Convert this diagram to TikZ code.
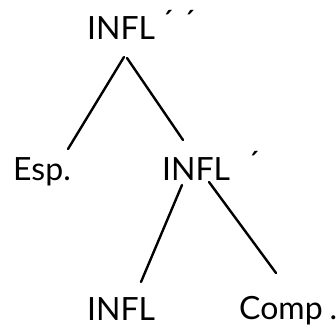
\documentclass[tikz,border=0pt]{standalone}
\usepackage{fontspec}
\setmainfont{Lato}
\newcommand{\barmark}{\raisebox{6pt}{´}}
\begin{document}
\begin{tikzpicture}[x=1pt,y=-1pt,
  lbl/.style={inner sep=0pt, anchor=base west, font=\fontsize{32}{38}\selectfont},
  branch/.style={line width=2.4pt, line cap=round}]
\useasboundingbox (0,0) rectangle (336,324);
% tree labels
\node[lbl] (top)  at (87,39)  {INFL\kern6pt\barmark\kern9pt\barmark};
\node[lbl] (esp)  at (13,180) {Esp.};
\node[lbl] (bar)  at (162,180) {INFL\kern17pt\barmark};
\node[lbl] (head) at (87,320) {INFL};
\node[lbl] (comp) at (239,319) {Comp\kern7pt.};
% branches
\draw[branch] ([shift={(37,18)}]top.base west) -- ([shift={(55,-31)}]esp.base west);
\draw[branch] ([shift={(40,19)}]top.base west) -- ([shift={(21,-40)}]bar.base west);
\draw[branch] ([shift={(20,5)}]bar.base west) -- ([shift={(54,-38)}]head.base west);
\draw[branch] ([shift={(47,2)}]bar.base west) -- ([shift={(37,-46)}]comp.base west);
\end{tikzpicture}
\end{document}
